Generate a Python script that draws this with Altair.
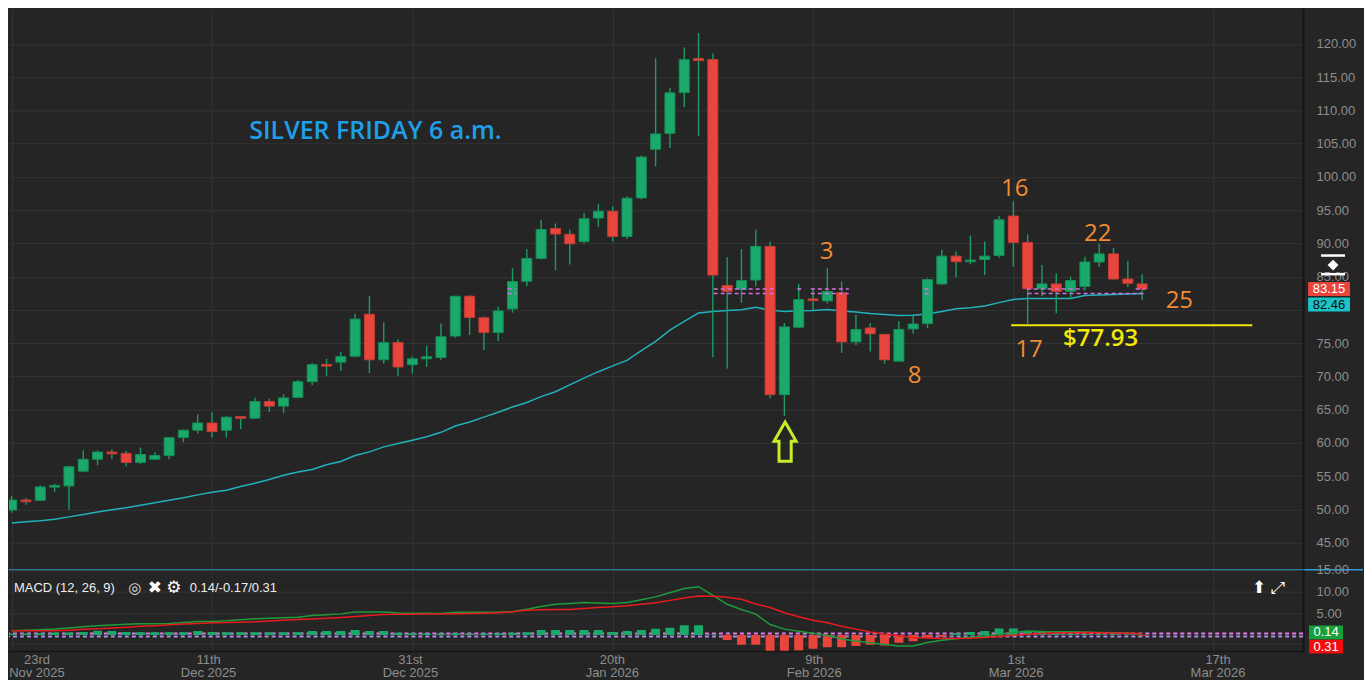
import altair as alt
import pandas as pd

# ---------------- data ----------------
opens = [49.9, 51.4, 51.37, 53.35, 53.53, 55.74, 57.54, 58.62, 58.43, 57.06,
         57.54, 58.09, 60.82, 61.91, 62.99, 61.91, 63.95, 63.72, 66.22, 65.53,
         66.85, 69.21, 71.8, 72.15, 73.03, 79.35, 72.5, 75.09, 71.76, 72.65,
         72.84, 76.07, 82.06, 78.82, 76.62, 80.15, 84.3, 87.74, 92.25, 91.37,
         90.29, 93.82, 94.85, 91.03, 96.85, 104.16, 106.56, 112.69, 117.8, 117.65,
         83.68, 83.09, 84.5, 89.56, 67.25, 77.4, 81.65, 81.37, 82.59, 75.19,
         77.29, 76.32, 72.29, 77.15, 77.94, 83.91, 88.09, 87.25, 87.59, 88.18,
         94.12, 90.15, 83.18, 83.91, 82.79, 83.53, 87.21, 88.43, 84.65, 83.91]
highs = [52.0, 51.7, 53.6, 53.87, 56.5, 58.9, 58.9, 59.0, 58.8, 59.3,
         58.6, 60.9, 62.0, 64.3, 64.65, 64.1, 64.1, 66.8, 66.66, 67.35,
         69.5, 72.0, 72.65, 73.72, 79.41, 82.1, 78.13, 75.59, 72.99, 74.6,
         77.94, 82.1, 82.2, 79.01, 80.49, 86.26, 89.16, 93.57, 93.0, 92.1,
         94.6, 95.93, 95.59, 97.06, 103.24, 117.84, 113.43, 119.46, 121.66, 118.57,
         87.94, 89.16, 92.1, 90.29, 78.03, 83.91, 83.2, 86.26, 84.26, 79.26,
         78.03, 76.4, 78.28, 79.35, 84.75, 89.06, 88.82, 91.18, 90.29, 94.12,
         96.32, 91.37, 86.76, 85.53, 85.0, 87.99, 89.94, 89.31, 87.35, 85.38]
lows = [49.5, 50.7, 51.3, 52.65, 49.94, 55.6, 56.62, 57.54, 56.5, 56.8,
        57.45, 57.54, 60.09, 61.37, 60.82, 60.82, 62.1, 63.6, 64.65, 64.5,
        66.7, 68.7, 70.09, 70.82, 72.9, 70.49, 71.91, 70.09, 70.44, 71.41,
        72.5, 75.82, 76.22, 73.97, 75.34, 79.6, 83.57, 87.6, 85.97, 86.85,
        89.94, 92.5, 90.29, 90.68, 96.66, 101.56, 104.35, 110.53, 106.12, 72.88,
        71.18, 81.07, 83.57, 66.66, 64.06, 77.3, 80.0, 80.97, 73.53, 74.71,
        73.76, 71.91, 72.2, 76.41, 77.29, 83.76, 84.9, 86.85, 85.24, 87.84,
        86.47, 77.93, 82.06, 79.5, 81.62, 82.94, 86.47, 84.56, 83.43, 81.47]
closes = [51.4, 51.15, 53.38, 53.6, 56.4, 57.54, 58.62, 58.35, 57.06, 58.24,
          58.1, 60.78, 61.91, 62.99, 61.7, 63.87, 63.7, 66.22, 65.53, 66.76,
          69.21, 71.76, 71.55, 72.99, 78.62, 72.5, 75.09, 71.41, 72.65, 72.95,
          75.97, 82.06, 78.87, 76.62, 79.85, 84.26, 87.74, 92.1, 91.41, 89.94,
          93.72, 94.85, 91.03, 96.81, 102.99, 106.47, 112.65, 117.65, 117.5, 85.24,
          82.79, 84.41, 89.56, 67.25, 77.44, 81.56, 81.4, 82.79, 75.19, 77.06,
          76.41, 72.5, 77.06, 77.88, 84.56, 88.09, 87.25, 87.5, 88.09, 93.57,
          90.15, 83.18, 83.91, 82.79, 84.41, 87.21, 88.43, 84.65, 84.01, 83.15]
moving_avg = [47.96, 48.13, 48.28, 48.5, 48.87, 49.24, 49.6, 49.94, 50.26, 50.63,
              51.0, 51.37, 51.74, 52.18, 52.57, 52.88, 53.43, 53.94, 54.5, 55.12,
              55.63, 56.0, 56.72, 57.2, 58.1, 58.65, 59.4, 59.9, 60.41, 60.93,
              61.59, 62.54, 63.13, 63.87, 64.6, 65.41, 66.07, 66.96, 67.69, 68.72,
              69.75, 70.71, 71.59, 72.4, 73.87, 75.26, 76.96, 78.28, 79.53, 79.75,
              79.9, 80.04, 80.41, 79.97, 79.75, 79.87, 79.9, 80.07, 79.85, 79.68,
              79.46, 79.31, 79.16, 79.19, 79.38, 79.75, 80.19, 80.34, 80.6, 81.1,
              81.56, 81.71, 81.71, 81.71, 81.71, 82.16, 82.25, 82.31, 82.4, 82.46]
macd_line = [0.97, 1.08, 1.2, 1.35, 1.6, 1.9, 2.1, 2.32, 2.45, 2.58,
             2.58, 2.65, 2.85, 3.09, 3.1, 3.25, 3.5, 3.75, 3.85, 3.97,
             4.1, 4.5, 4.65, 4.85, 5.3, 5.3, 5.3, 5.05, 5.0, 4.97,
             4.95, 5.25, 5.25, 5.22, 5.2, 5.35, 5.9, 6.55, 7.08, 7.25,
             7.44, 7.33, 7.22, 7.44, 8.1, 8.75, 9.7, 10.68, 11.1, 9.1,
             7.05, 5.85, 4.8, 2.4, 1.35, 0.85, 0.4, -0.05, -0.9, -1.4,
             -1.8, -2.2, -2.5, -2.5, -1.72, -1.2, -0.85, -0.5, -0.25, 0.1,
             0.6, 0.9, 0.78, 0.75, 0.72, 0.68, 0.6, 0.52, 0.4, 0.14]
signal_line = [0.97, 0.97, 0.97, 0.97, 1.1, 1.3, 1.45, 1.63, 1.8, 1.98,
               2.15, 2.36, 2.5, 2.64, 2.8, 2.87, 2.95, 3.02, 3.2, 3.37,
               3.53, 3.7, 3.87, 4.04, 4.25, 4.47, 4.68, 4.75, 4.78, 4.8,
               4.83, 4.86, 4.94, 5.02, 5.1, 5.35, 5.7, 5.78, 5.83, 5.88,
               6.1, 6.3, 6.5, 6.7, 7.05, 7.4, 7.95, 8.5, 8.95, 8.9,
               8.65, 8.2, 7.1, 6.3, 5.1, 4.2, 3.4, 2.8, 2.0, 1.35,
               0.7, 0.25, -0.15, -0.6, -0.7, -0.8, -0.82, -0.75, -0.6, -0.35,
               -0.05, 0.15, 0.35, 0.45, 0.5, 0.55, 0.5, 0.45, 0.38, 0.31]
histogram = [0.3, 0.35, 0.4, 0.55, 0.55, 0.7, 1.0, 0.92, 0.7, 0.62,
             0.62, 0.62, 0.62, 0.92, 0.7, 0.62, 0.62, 0.62, 0.62, 0.62,
             0.62, 0.92, 0.92, 0.92, 1.14, 0.92, 0.92, 0.5, 0.4, 0.35,
             0.35, 0.4, 0.35, 0.35, 0.4, 0.5, 0.62, 1.14, 1.14, 1.14,
             1.14, 1.14, 0.7, 0.92, 1.14, 1.43, 1.65, 2.25, 2.25, 0.1,
             -1.15, -2.25, -2.25, -3.86, -3.86, -3.57, -3.13, -2.83, -2.83, -2.54,
             -2.25, -2.39, -1.8, -1.43, -0.7, -0.4, 0.4, 0.7, 0.92, 1.5,
             1.5, 0.92, 0.7, 0.4, 0.3, 0.25, 0.2, 0.15, 0.1, -0.17]

tick_idx = [0, 14, 28, 42, 56, 70, 84]
label_idx = [2.1, 14, 28, 42, 56, 70, 84]
tick_day = ["23rd", "11th", "31st", "20th", "9th", "1st", "17th"]
tick_month = ["Nov 2025", "Dec 2025", "Dec 2025", "Jan 2026", "Feb 2026", "Mar 2026", "Mar 2026"]
price_ticks = [45, 50, 55, 60, 65, 70, 75, 80, 85, 90, 95, 100, 105, 110, 115, 120]
hidden_price_labels = [80]
macd_ticks = [-2, 5, 10, 15]

note_idx = [56.95, 63.1, 70.1, 75.9, 81.6, 71.1]
note_price = [88.72, 70.04, 98.13, 91.37, 81.37, 74.01]
note_text = ["3", "8", "16", "22", "25", "17"]

title_text = ["SILVER FRIDAY 6 a.m."]
title_idx = [16.6]
title_price = [106.96]

support_text = ["$77.93"]
support_idx = [76.1]
support_price = [75.63]
support_start = [69.84]
support_end = [86.7]
support_level = [77.7]

arrow_idx = [54.05]
arrow_price = [60.19]

seg_start = [34.66, 49.06, 54.9, 55.85, 63.8, 70.94, 78.55, 34.66, 49.06, 55.85, 63.8, 71.0]
seg_end = [35.27, 53.45, 55.17, 58.5, 64.15, 74.9, 79.24, 35.27, 53.3, 58.5, 64.15, 79.24]
seg_level = [83.15] * 7 + [82.46] * 5

last_price = [83.15]
last_avg = [82.46]
last_macd = [0.14]
last_signal = [0.31]
handle_bars = [88.18, 85.38]
handle_mid = [86.74]

# ---------------- styling / layout ----------------
W, HP, HM, HL = 1296, 562, 82, 28
XDOM = [0.16, 89.9]
PDOM = [40.93, 125.34]
MDOM = [-3.8, 15.0]
BG = "#252525"
GRID = "#343434"
AXC = "#8d8d8d"
UP, DOWN = "#1aa96b", "#e8463c"
WICK = "#1c9c60"
FONT = "Liberation Sans"
NFONT = "Open Sans"

df = pd.DataFrame({
    "i": list(range(len(opens))), "open": opens, "high": highs, "low": lows,
    "close": closes, "ma": moving_avg, "macd": macd_line, "signal": signal_line,
    "hist": histogram,
})
df["dir"] = ["up" if c >= o else "down" for o, c in zip(opens, closes)]
df["hdir"] = ["pos" if h >= 0 else "neg" for h in histogram]

xs = alt.Scale(domain=XDOM, nice=False, zero=False)
xgrid = alt.Axis(values=tick_idx, labels=False, ticks=False, domain=False,
                 grid=True, gridColor=GRID, title=None)


def X(f="i"):
    return alt.X(f"{f}:Q", scale=xs, axis=xgrid)


hide_expr = " || ".join(f"datum.value == {v}" for v in hidden_price_labels)
ps = alt.Scale(domain=PDOM, nice=False, zero=False)
paxis = alt.Axis(orient="right", values=price_ticks,
                 labelExpr=f"({hide_expr}) ? '' : format(datum.value, '.2f')",
                 labelColor=AXC, labelFont=FONT, labelFontSize=13, labelPadding=13, ticks=False,
                 domainColor="#141414", domainWidth=2, grid=True, gridColor=GRID, title=None)


def PY(f):
    return alt.Y(f"{f}:Q", scale=ps, axis=paxis)


ms = alt.Scale(domain=MDOM, nice=False, zero=False)
maxis = alt.Axis(orient="right", values=macd_ticks,
                 labelExpr="datum.value > 0 ? format(datum.value, '.2f') : ''",
                 labelColor=AXC, labelFont=FONT, labelFontSize=13, labelPadding=13,
                 ticks=False, domainColor="#141414", domainWidth=2, grid=True,
                 gridColor=GRID, title=None)


def MY(f):
    return alt.Y(f"{f}:Q", scale=ms, axis=maxis)


ARROW = "M0,-1L0.56,-0.02L0.31,-0.02L0.31,1L-0.31,1L-0.31,-0.02L-0.56,-0.02Z"
BOX42 = "M-1.5,-0.5L1.5,-0.5L1.5,0.5L-1.5,0.5Z"
BOX34 = "M-1.2143,-0.5L1.2143,-0.5L1.2143,0.5L-1.2143,0.5Z"

base = alt.Chart(df)

ma_layer = base.mark_line(color="#21b2bd", strokeWidth=1.5, clip=True).encode(x=X(), y=PY("ma"))
wick_layer = base.mark_rule(color=WICK, strokeWidth=1.4, clip=True).encode(
    x=X(), y=PY("low"), y2="high:Q")
body_layer = base.mark_bar(size=10, strokeWidth=1, clip=True).encode(
    x=X(), y=PY("open"), y2="close:Q",
    color=alt.Color("dir:N", scale=alt.Scale(domain=["up", "down"], range=[UP, DOWN]), legend=None),
    stroke=alt.Stroke("dir:N", scale=alt.Scale(domain=["up", "down"], range=["#158f59", "#c43d33"]), legend=None),
)

seg_df = pd.DataFrame({"s": seg_start, "e": seg_end, "lvl": seg_level})
seg_layer = alt.Chart(seg_df).mark_rule(color="#d46ee0", strokeDash=[4, 3], strokeWidth=1.6).encode(
    x=X("s"), x2="e:Q", y=PY("lvl"))

sup_df = pd.DataFrame({"s": support_start, "e": support_end, "lvl": support_level})
sup_layer = alt.Chart(sup_df).mark_rule(color="#f2e600", strokeWidth=2).encode(
    x=X("s"), x2="e:Q", y=PY("lvl"))

note_df = pd.DataFrame({"i": note_idx, "p": note_price, "t": note_text})
note_layer = alt.Chart(note_df).mark_text(font=NFONT, fontSize=24, color="#f28c33").encode(
    x=X(), y=PY("p"), text="t:N")

suptxt_df = pd.DataFrame({"i": support_idx, "p": support_price, "t": support_text})
suptxt_layer = alt.Chart(suptxt_df).mark_text(font=NFONT, fontSize=24, fontWeight=600,
                                              color="#f2e80a").encode(x=X(), y=PY("p"), text="t:N")

title_df = pd.DataFrame({"i": title_idx, "p": title_price, "t": title_text})
title_layer = alt.Chart(title_df).mark_text(font=NFONT, fontSize=25, fontWeight=600, align="left",
                                            color="#1f9fe8").encode(x=X(), y=PY("p"), text="t:N")

arrow_df = pd.DataFrame({"i": arrow_idx, "p": arrow_price})
arrow_layer = alt.Chart(arrow_df).mark_point(shape=ARROW, size=1550, filled=False, opacity=1,
                                             color="#c5ee2a", strokeWidth=3).encode(x=X(), y=PY("p"))

lp_df = pd.DataFrame({"v": last_price, "t": [f"{v:.2f}" for v in last_price]})
lp_box = alt.Chart(lp_df).mark_point(shape=BOX42, size=784, filled=True, opacity=1, color=DOWN).encode(
    x=alt.value(W + 26), y=PY("v"))
lp_txt = alt.Chart(lp_df).mark_text(font=FONT, fontSize=13, color="#ffffff").encode(
    x=alt.value(W + 26), y=PY("v"), text="t:N")
la_df = pd.DataFrame({"v": last_avg, "t": [f"{v:.2f}" for v in last_avg]})
la_box = alt.Chart(la_df).mark_point(shape=BOX42, size=784, filled=True, opacity=1, color="#19c3c6",
                                     yOffset=11).encode(x=alt.value(W + 26), y=PY("v"))
la_txt = alt.Chart(la_df).mark_text(font=FONT, fontSize=13, color="#0a0a0a", yOffset=11).encode(
    x=alt.value(W + 26), y=PY("v"), text="t:N")

hb_df = pd.DataFrame({"v": handle_bars})
hb_layer = alt.Chart(hb_df).mark_rule(color="#ffffff", strokeWidth=2.5).encode(
    x=alt.value(W + 18), x2=alt.value(W + 42), y=PY("v"))
hm_df = pd.DataFrame({"v": handle_mid})
hm_layer = alt.Chart(hm_df).mark_point(shape="diamond", size=120, filled=True, opacity=1,
                                       color="#ffffff").encode(x=alt.value(W + 30), y=PY("v"))

sep_layer = alt.Chart(pd.DataFrame({"v": [PDOM[0]]})).mark_rule(color="#2d9fd8", strokeWidth=1.5).encode(
    x=alt.value(0), x2=alt.value(W + 60), y=PY("v"))

price = alt.layer(
    ma_layer, wick_layer, body_layer, seg_layer, sup_layer, note_layer, suptxt_layer,
    title_layer, arrow_layer, lp_box, lp_txt, la_box, la_txt, hb_layer, hm_layer, sep_layer,
).properties(width=W, height=HP)

# ---------------- MACD panel ----------------
zero_df = pd.DataFrame({"z": [0.0]})
zero_a = alt.Chart(zero_df).mark_rule(color="#e27ae6", strokeDash=[4, 3], strokeWidth=2, yOffset=-1.5).encode(y=MY("z"))
zero_b = alt.Chart(zero_df).mark_rule(color="#a98ee0", strokeDash=[4, 3], strokeWidth=2, yOffset=1.5).encode(y=MY("z"))
hist_layer = base.mark_bar(size=9, clip=True).encode(
    x=X(), y=MY("hist"), y2=alt.Y2Datum(0),
    color=alt.Color("hdir:N", scale=alt.Scale(domain=["pos", "neg"], range=["#ffff00", "#ff1010"]), legend=None),
)
macd_layer = base.mark_line(color="#1e9b3a", strokeWidth=1.5, clip=True).encode(x=X(), y=MY("macd"))
sig_layer = base.mark_line(color="#e81c1c", strokeWidth=1.5, clip=True).encode(x=X(), y=MY("signal"))

hdr = pd.DataFrame({"t": ["MACD (12, 26, 9)"]})
hdr_layer = alt.Chart(hdr).mark_text(align="left", font=FONT, fontSize=13, color="#eeeeee").encode(
    x=alt.value(5), y=alt.value(18), text="t:N")
eye_layer = alt.Chart(pd.DataFrame({"t": ["◎"]})).mark_text(font="DejaVu Sans", fontSize=15, color="#dddddd").encode(
    x=alt.value(126), y=alt.value(18), text="t:N")
x_layer = alt.Chart(pd.DataFrame({"t": ["✖"]})).mark_text(font="DejaVu Sans", fontSize=17, color="#ffffff").encode(
    x=alt.value(146), y=alt.value(18), text="t:N")
gear_layer = alt.Chart(pd.DataFrame({"t": ["⚙"]})).mark_text(font="DejaVu Sans", fontSize=17, color="#ffffff").encode(
    x=alt.value(165), y=alt.value(18), text="t:N")
vals_layer = alt.Chart(pd.DataFrame({"t": ["0.14/-0.17/0.31"]})).mark_text(align="left", font=FONT, fontSize=13,
                                                                          color="#eeeeee").encode(
    x=alt.value(181), y=alt.value(18), text="t:N")
icons_layer = alt.Chart(pd.DataFrame({"t": ["⬆", "⤢"], "px": [W - 44, W - 25]})).mark_text(
    font="DejaVu Sans", fontSize=17, color="#ffffff").encode(
    x=alt.X("px:Q", scale=None), y=alt.value(18), text="t:N")

mv_df = pd.DataFrame({"v": last_macd, "t": [f"{v:.2f}" for v in last_macd]})
mv_box = alt.Chart(mv_df).mark_point(shape=BOX34, size=784, filled=True, opacity=1, color="#16a03c",
                                     yOffset=-2).encode(x=alt.value(W + 23), y=MY("v"))
mv_txt = alt.Chart(mv_df).mark_text(font=FONT, fontSize=13, color="#ffffff", yOffset=-2).encode(
    x=alt.value(W + 23), y=MY("v"), text="t:N")
sv_df = pd.DataFrame({"v": last_signal, "t": [f"{v:.2f}" for v in last_signal]})
sv_box = alt.Chart(sv_df).mark_point(shape=BOX34, size=784, filled=True, opacity=1, color="#f20d0d",
                                     yOffset=13).encode(x=alt.value(W + 23), y=MY("v"))
sv_txt = alt.Chart(sv_df).mark_text(font=FONT, fontSize=13, color="#ffffff", yOffset=13).encode(
    x=alt.value(W + 23), y=MY("v"), text="t:N")

bottom_layer = alt.Chart(pd.DataFrame({"v": [MDOM[0]]})).mark_rule(color="#161616", strokeWidth=1.5).encode(
    x=alt.value(0), x2=alt.value(W), y=MY("v"))

macd = alt.layer(
    zero_a, zero_b, hist_layer, macd_layer, sig_layer, hdr_layer, eye_layer, x_layer, gear_layer,
    vals_layer, icons_layer, mv_box, mv_txt, sv_box, sv_txt, bottom_layer,
).properties(width=W, height=HM)

# ---------------- date labels ----------------
tick_df = pd.DataFrame({"i": label_idx, "lab": [d + "\n" + m for d, m in zip(tick_day, tick_month)]})
labels = alt.Chart(tick_df).mark_text(lineBreak="\n", baseline="top", lineHeight=14, font=FONT,
                                      fontSize=13, color=AXC, clip=True).encode(
    x=alt.X("i:Q", scale=xs, axis=None), y=alt.value(2), text="lab:N",
).properties(width=W, height=HL)

chart = alt.vconcat(price, macd, labels, spacing=0, bounds="flush", padding=0).configure(
    background=BG).configure_view(stroke=None)

chart.save("out.html", embed_options={"renderer": "svg", "actions": False})
